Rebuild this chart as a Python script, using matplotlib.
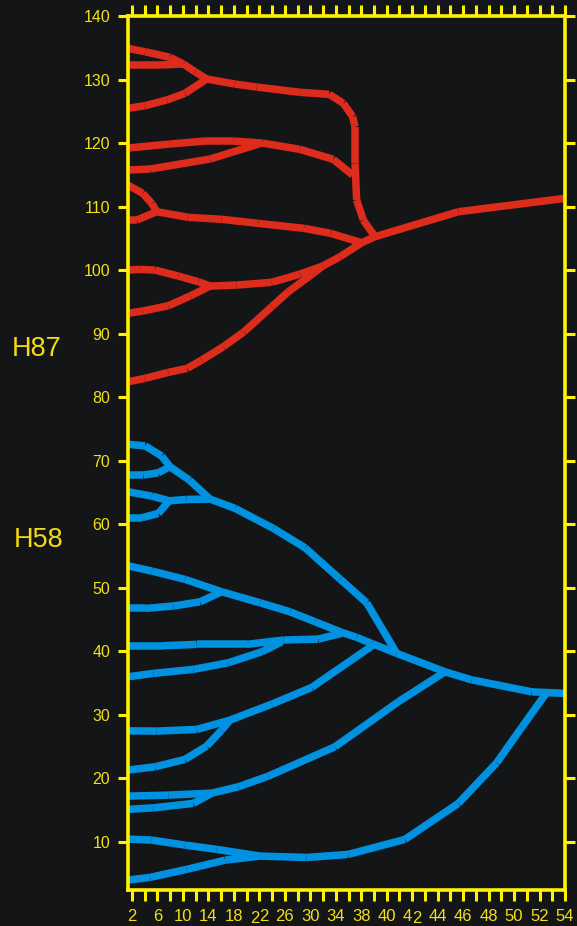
import matplotlib
matplotlib.use("Agg")
import matplotlib.pyplot as plt
from matplotlib.transforms import offset_copy

plt.rcParams['font.family'] = ['Liberation Sans', 'DejaVu Sans']

# H87 tree: every branch is a polyline, leaves start at the left edge
h87_x = [
    [1.5, 3.56, 6.56, 8.16, 9.57, 10.97],
    [1.5, 5.36, 8.16],
    [1.5, 3.56, 6.17, 8.36, 10.97],
    [10.97, 14.37, 16.98, 22.17, 25.69, 27.38, 28.50, 28.78, 28.78, 28.98, 29.78, 31.18],
    [1.5, 6.56, 10.77, 14.13, 17.61, 22.17, 26.17, 28.50],
    [1.5, 4.16, 11.37, 17.61],
    [1.5, 3.28, 4.37, 4.97],
    [1.5, 2.56, 4.97],
    [4.97, 8.76, 12.77, 17.17, 22.66, 25.86, 29.58],
    [29.58, 31.18],
    [1.5, 2.96, 4.76, 7.56, 9.96, 11.37],
    [1.5, 3.28, 6.36, 8.97, 11.37],
    [11.37, 14.57, 18.78, 22.17, 24.90, 26.98, 29.58],
    [1.5, 3.56, 6.36, 8.63, 10.37, 12.96, 15.45, 18.78, 20.77, 23.77, 24.90],
    [31.18, 41.19, 54.0],
]
h87_y = [
    [134.91, 134.38, 133.50, 132.45, 131.23, 130.08],
    [132.29, 132.29, 132.45],
    [125.47, 125.88, 126.78, 127.83, 130.08],
    [130.08, 129.29, 128.82, 127.99, 127.67, 126.26, 124.15, 122.57, 116.81, 111.03, 107.88, 105.26],
    [119.22, 119.85, 120.32, 120.32, 120.01, 119.01, 117.44, 114.97],
    [115.76, 115.91, 117.49, 120.01],
    [113.39, 112.09, 110.51, 109.19],
    [107.88, 107.88, 109.19],
    [109.19, 108.31, 108.00, 107.36, 106.58, 105.79, 104.31],
    [104.31, 105.26],
    [100.01, 100.12, 100.01, 99.07, 98.17, 97.49],
    [93.20, 93.56, 94.39, 95.92, 97.49],
    [97.49, 97.65, 98.08, 99.38, 100.64, 102.11, 104.31],
    [82.43, 82.96, 83.91, 84.54, 85.84, 87.94, 90.30, 94.24, 96.60, 99.49, 100.64],
    [105.26, 109.19, 111.30],
]

# H58 tree
h58_x = [
    [1.5, 3.56, 5.56, 6.56],
    [1.5, 3.36, 5.16, 6.56],
    [6.56, 8.88, 11.37],
    [1.5, 4.37, 6.48],
    [1.5, 3.16, 5.16, 6.48],
    [6.48, 8.57, 11.37],
    [11.37, 14.37, 18.97, 22.78, 26.98, 30.18, 33.79],
    [1.5, 4.37, 8.36, 12.77],
    [1.5, 3.56, 6.96, 10.17, 12.77],
    [12.77, 17.37, 20.97, 23.98, 27.18, 28.98, 30.78, 33.79],
    [1.5, 5.56, 9.77, 15.77, 20.18, 24.37, 27.18],
    [1.5, 4.56, 9.36, 13.56, 17.58, 19.98],
    [1.5, 4.97, 9.77, 13.77],
    [1.5, 4.76, 8.36, 10.97, 12.77, 13.77],
    [13.77, 18.78, 23.58, 30.97],
    [1.5, 6.36, 11.61],
    [1.5, 4.56, 9.36, 11.61],
    [11.61, 14.77, 18.37, 26.38, 33.98, 39.59],
    [1.5, 4.37, 8.36, 12.17, 17.37],
    [1.5, 4.16, 8.57, 13.17, 17.37],
    [17.37, 22.98, 27.98, 34.78, 41.19, 45.80, 48.80, 51.80],
    [33.79, 39.59, 42.80, 50.00, 54.0],
]
h58_y = [
    [72.57, 72.35, 70.73, 69.05],
    [67.74, 67.74, 68.10, 69.05],
    [69.05, 66.95, 63.96],
    [65.11, 64.43, 63.69],
    [61.02, 61.02, 61.71, 63.69],
    [63.69, 63.91, 63.96],
    [63.96, 62.50, 59.35, 56.29, 51.37, 47.64, 39.67],
    [53.46, 52.63, 51.32, 49.37],
    [46.75, 46.75, 47.12, 47.79, 49.37],
    [49.37, 47.64, 46.22, 44.65, 42.98, 42.19, 41.24, 39.67],
    [40.87, 40.87, 41.09, 41.09, 41.77, 41.92, 42.82],
    [35.98, 36.52, 37.15, 38.19, 39.92, 41.49],
    [27.48, 27.44, 27.70, 29.17],
    [21.30, 21.82, 22.98, 25.08, 27.59, 29.17],
    [29.17, 31.68, 34.31, 40.98],
    [17.20, 17.36, 17.68],
    [15.11, 15.36, 16.06, 17.68],
    [17.68, 18.67, 20.35, 24.97, 32.05, 36.77],
    [10.44, 10.28, 9.49, 8.82, 7.76],
    [3.98, 4.41, 5.67, 7.12, 7.76],
    [7.76, 7.55, 8.03, 10.39, 16.06, 22.45, 28.02, 33.50],
    [39.67, 36.77, 35.50, 33.62, 33.37],
]

xtick_labels = ['2', '6', '10', '14', '18', '22', '26', '30', '34',
                '38', '40', '42', '44', '46', '48', '50', '52', '54']
ytick_values = list(range(10, 141, 10))

bg = '#141517'
yellow = '#fff200'
label_yellow = '#f2e01a'
red = '#dd2b1c'
blue = '#0091e0'

fig = plt.figure(figsize=(5.77, 9.26), dpi=100, facecolor=bg)
ax = fig.add_axes([0.2213, 0.0394, 0.7579, 0.9433])
ax.set_facecolor(bg)


def draw_tree(xs, ys, color):
    # each segment on its own so the joints show small notches
    for bx, by in zip(xs, ys):
        for i in range(len(bx) - 1):
            ax.plot(bx[i:i + 2], by[i:i + 2], color=color, lw=5.4,
                    solid_capstyle='butt')


draw_tree(h87_x, h87_y, red)
draw_tree(h58_x, h58_y, blue)

ax.set_xlim(1.48, 54)
ax.set_ylim(2.5, 140)

# evenly spaced labels, one minor tick between each pair
step = 52 / (len(xtick_labels) - 1)
major = [2 + step * k for k in range(len(xtick_labels))]
minor = [2 + step * (k + 0.5) for k in range(len(xtick_labels) - 1)]
odd = {'22', '42'}
ax.set_xticks(major, ['' if t in odd else t for t in xtick_labels])
ax.set_xticks(minor, minor=True)
ax.set_yticks(ytick_values)

for s in ax.spines.values():
    s.set_color(yellow)
    s.set_linewidth(2.6)

ax.tick_params(axis='x', which='both', direction='out', length=8, width=2.2,
               color=yellow, top=True, labeltop=False, labelsize=12,
               labelcolor=label_yellow, pad=6)
ax.tick_params(axis='y', which='both', direction='out', length=7.5, width=2.2,
               color=yellow, right=True, labelright=False, labelsize=11.5,
               labelcolor=label_yellow, pad=5)

# two labels whose digits sit on different baselines
for pos, t in zip(major, xtick_labels):
    if t not in odd:
        continue
    low = 0 if t == '22' else 1
    for j, ch in enumerate(t):
        dy = -26.5 - (2.5 if j == low else 0)
        tr = offset_copy(ax.get_xaxis_transform(), fig=fig,
                         x=(-4.6 if j == 0 else 4.6), y=dy, units='dots')
        ax.text(pos, 0, ch, transform=tr, ha='center', va='center',
                fontsize=12, color=label_yellow, clip_on=False)

fig.text(0.0627, 0.6231, 'H87', ha='center', va='center', fontsize=19.5,
         color='#f4da16')
fig.text(0.0664, 0.4168, 'H58', ha='center', va='center', fontsize=19.5,
         color='#f4da16')

fig.savefig('out.png', dpi=100, facecolor=bg)
